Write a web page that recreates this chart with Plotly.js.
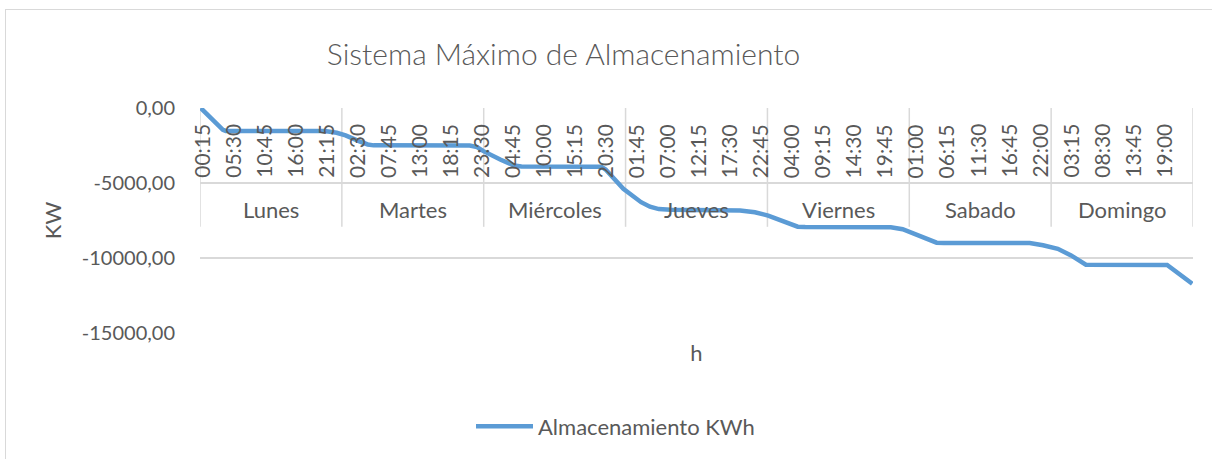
<!DOCTYPE html>
<html>
<head>
<meta charset="utf-8">
<script src="https://cdn.plot.ly/plotly-3.0.1.min.js"></script>
<style>
  html, body { margin: 0; padding: 0; background: #ffffff; overflow: hidden; }
  #chart { position: absolute; left: 0; top: 0; width: 1212px; height: 459px; }
  #frame { position: absolute; left: 5px; top: 9px; width: 1300px; height: 600px;
           border: 1px solid #d9d9d9; pointer-events: none; }
</style>
</head>
<body>
<div id="chart"></div>
<div id="frame"></div>
<script>
// ---- data ----
const dias = ['Lunes', 'Martes', 'Miércoles', 'Jueves', 'Viernes', 'Sabado', 'Domingo'];
const horas = ['00:15', '05:30', '10:45', '16:00', '21:15',
               '02:30', '07:45', '13:00', '18:15', '23:30',
               '04:45', '10:00', '15:15', '20:30',
               '01:45', '07:00', '12:15', '17:30', '22:45',
               '04:00', '09:15', '14:30', '19:45',
               '01:00', '06:15', '11:30', '16:45', '22:00',
               '03:15', '08:30', '13:45', '19:00'];
// 15-minute step index (0 = Lunes 00:15) and stored energy at that step
const paso = [0, 8, 15, 17, 84, 92, 98, 107, 113, 117,
              182, 187, 191, 203, 212, 217,
              271, 274, 286, 298, 304, 310, 318,
              365, 375, 384, 392, 399, 404, 409,
              467, 475, 483, 492, 498, 503,
              561, 570, 580, 589, 599,
              654, 671];
const kwh = [0, -760, -1450, -1530, -1540, -1650, -1830, -2210, -2430, -2490,
             -2500, -2600, -2860, -3450, -3830, -3900,
             -3910, -4100, -5390, -6280, -6580, -6740, -6790,
             -6830, -6950, -7170, -7450, -7770, -7910, -7940,
             -7950, -8080, -8390, -8790, -8980, -9000,
             -9000, -9150, -9390, -9830, -10450,
             -10460, -11720];
const pasosPorDia = 96;
const pasosPorEtiqueta = 21;

// ---- styling ----
const FONT = 'Lato, "Open Sans", sans-serif';
const GRIS = '#595959';
const REJILLA = '#d9d9d9';
const nPasos = pasosPorDia * dias.length;

const annotations = [];
horas.forEach((h, k) => {
  annotations.push({
    x: k * pasosPorEtiqueta, xref: 'x', y: 1, yref: 'paper',
    text: h, textangle: -90, showarrow: false,
    xanchor: 'center', yanchor: 'top', yshift: -14,
    font: { family: FONT, size: 21, color: GRIS }
  });
});
dias.forEach((d, k) => {
  annotations.push({
    x: k * pasosPorDia + (pasosPorDia - 1) / 2, xref: 'x', y: 1, yref: 'paper',
    text: d, showarrow: false, xanchor: 'center', yanchor: 'middle', yshift: -101,
    font: { family: FONT, size: 22, color: GRIS }
  });
});

const shapes = [];
for (let k = 0; k <= dias.length; k++) {
  shapes.push({
    type: 'line', xref: 'x', yref: 'paper',
    x0: k * pasosPorDia - 0.5, x1: k * pasosPorDia - 0.5,
    y0: 1, y1: 0.472,
    line: { color: REJILLA, width: 1.5 }, layer: 'below'
  });
}

const trace = {
  x: paso, y: kwh, type: 'scatter', mode: 'lines',
  name: 'Almacenamiento KWh',
  line: { color: '#5b9bd5', width: 4.5, shape: 'linear' },
  hoverinfo: 'skip'
};

const layout = {
  width: 1212, height: 459,
  margin: { l: 200, r: 19, t: 107.5, b: 125.7, pad: 0 },
  paper_bgcolor: 'rgba(0,0,0,0)', plot_bgcolor: 'rgba(0,0,0,0)',
  font: { family: FONT, color: GRIS },
  title: {
    text: 'Sistema Máximo de Almacenamiento',
    font: { family: FONT, size: 30, color: GRIS, weight: 300 },
    x: 0.465, xref: 'container', xanchor: 'center',
    y: 1 - 54 / 459, yref: 'container', yanchor: 'middle'
  },
  xaxis: {
    range: [-0.5, nPasos - 0.5], showticklabels: false, showgrid: false,
    zeroline: false, showline: false, ticks: '', fixedrange: true,
    title: { text: 'h', font: { family: FONT, size: 22, color: GRIS }, standoff: 12 }
  },
  yaxis: {
    range: [-15000, 0], tickvals: [0, -5000, -10000, -15000],
    ticktext: ['0,00', '-5000,00', '-10000,00', '-15000,00'],
    showgrid: true, gridcolor: REJILLA, gridwidth: 1.5,
    zeroline: false, showline: false, ticks: '', ticklabelstandoff: 24,
    tickfont: { family: FONT, size: 20, color: GRIS },
    title: { text: 'KW', font: { family: FONT, size: 22, color: GRIS }, standoff: 14 },
    fixedrange: true
  },
  showlegend: true,
  legend: {
    orientation: 'h', x: (471 - 200) / 993, xanchor: 'left', y: -0.415, yanchor: 'middle',
    itemwidth: 57,
    font: { family: FONT, size: 22, color: GRIS }, bgcolor: 'rgba(0,0,0,0)'
  },
  annotations: annotations,
  shapes: shapes
};

Plotly.newPlot('chart', [trace], layout, { staticPlot: true, displayModeBar: false });
</script>
</body>
</html>
